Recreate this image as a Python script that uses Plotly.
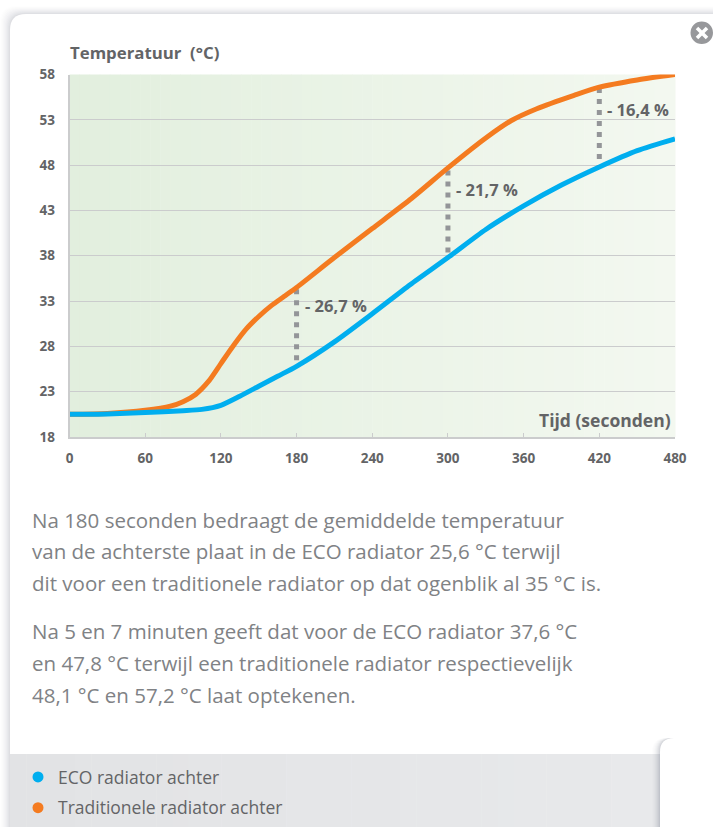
import plotly.graph_objects as go

W, H = 713, 827
# ---------- data ----------
eco_t = [0, 30, 60, 90, 105, 120, 135, 150, 165, 180, 210, 240, 270, 300, 330, 360, 390, 420, 450, 480]
eco_v = [20.5, 20.55, 20.7, 20.9, 21.05, 21.5, 22.5, 23.6, 24.7, 25.8, 28.5, 31.6, 34.8, 37.8, 40.9, 43.5, 45.8, 47.8, 49.6, 50.9]
trad_t = [0, 30, 60, 80, 90, 100, 110, 120, 130, 140, 150, 160, 170, 180, 210, 240, 270, 300, 330, 350, 370, 400, 420, 450, 480]
trad_v = [20.5, 20.6, 20.95, 21.4, 21.9, 22.7, 24.1, 26.1, 28.1, 29.9, 31.3, 32.5, 33.5, 34.5, 37.8, 41.0, 44.2, 47.7, 51.0, 52.9, 54.2, 55.7, 56.6, 57.4, 58.0]
gap_t = [180, 300, 420]
gap_low = [25.7, 37.8, 47.8]
gap_high = [34.3, 47.4, 56.5]
gap_labels = ["- 26,7 %", "- 21,7 %", "- 16,4 %"]
gap_label_y = [32.5, 45.3, 54.1]
x_ticks = [0, 60, 120, 180, 240, 300, 360, 420, 480]
y_ticks = [18, 23, 28, 33, 38, 43, 48, 53, 58]
legend_names = ["ECO radiator achter", "Traditionele radiator achter"]
paragraphs = [
    ["Na 180 seconden bedraagt de gemiddelde temperatuur",
     "van de achterste plaat in de ECO radiator 25,6 °C terwijl",
     "dit voor een traditionele radiator op dat ogenblik al 35 °C is."],
    ["Na 5 en 7 minuten geeft dat voor de ECO radiator 37,6 °C",
     "en 47,8 °C terwijl een traditionele radiator respectievelijk",
     "48,1 °C en 57,2 °C laat optekenen."],
]
para_y = [[520, 551, 583], [631, 663, 695]]

# ---------- styles ----------
BLUE, ORANGE = "#00aeef", "#f47b20"
TXT, GRID, DOT = "#636466", "#cbcccd", "#939598"
FONT = "Open Sans"
L, R, T, B = 69.5, 675.0, 74.5, 437.0

def px(x): return x / W
def py(y): return 1 - y / H
def mix(a, b, f):
    return "rgb(%d,%d,%d)" % tuple(round(a[i] + (b[i] - a[i]) * f) for i in range(3))

def rrect(x0, y0, x1, y1, r, **kw):
    p = (f"M{px(x0)},{py(y0 + r)} Q{px(x0)},{py(y0)} {px(x0 + r)},{py(y0)} "
         f"L{px(x1)},{py(y0)} L{px(x1)},{py(y1)} L{px(x0)},{py(y1)} Z")
    return dict(type="path", path=p, xref="paper", yref="paper", layer="below", **kw)

shapes = []
for i, a in zip(range(10, 0, -1), [.008, .01, .012, .014, .016, .02, .024, .028, .032, .036]):
    shapes.append(rrect(10 - i, 14 - i * .8, W, H, 16, fillcolor=f"rgba(90,95,110,{a})", line_width=0))
shapes.append(rrect(10, 14, W, H, 16, fillcolor="white", line_width=0))
n = 40
for i in range(n):
    x0 = 10 + (660 - 10) * i / n
    x1 = 10 + (660 - 10) * (i + 1) / n + .5
    shapes.append(dict(type="rect", xref="paper", yref="paper", layer="below", x0=px(x0), x1=px(x1),
                       y0=py(754), y1=py(H), line_width=0,
                       fillcolor=mix((226, 227, 229), (232, 233, 235), i / n)))
for i, a in zip(range(8, 0, -1), [.012, .016, .02, .026, .034, .044, .056, .07]):
    shapes.append(rrect(660 - i, 738, W, H, 14, fillcolor=f"rgba(90,95,110,{a})", line_width=0))
shapes.append(rrect(660, 738, W, H, 14, fillcolor="white", line_width=0))
m = 60
for i in range(m):
    shapes.append(dict(type="rect", xref="paper", yref="paper", layer="below",
                       x0=px(L + (R - L) * i / m), x1=px(L + (R - L) * (i + 1) / m + .5),
                       y0=py(T), y1=py(B), line_width=0,
                       fillcolor=mix((226, 239, 222), (243, 248, 240), i / (m - 1))))
shapes.append(dict(type="circle", xref="paper", yref="paper", x0=px(690.5), x1=px(713), y0=py(44), y1=py(21.5),
                   fillcolor="#97989b", line_width=0))
shapes.append(dict(type="line", xref="paper", yref="paper", x0=px(697), x1=px(707), y0=py(28), y1=py(38),
                   line=dict(color="white", width=3.5)))
shapes.append(dict(type="line", xref="paper", yref="paper", x0=px(697), x1=px(707), y0=py(38), y1=py(28),
                   line=dict(color="white", width=3.5)))

fig = go.Figure()
for t, lo, hi in zip(gap_t, gap_low, gap_high):
    fig.add_trace(go.Scatter(x=[t, t], y=[hi, lo], mode="lines", showlegend=False, hoverinfo="skip",
                             line=dict(color=DOT, width=5, dash="5px,6px")))
fig.add_trace(go.Scatter(x=trad_t, y=trad_v, mode="lines", showlegend=False,
                         line=dict(color=ORANGE, width=5, shape="spline", smoothing=.7)))
fig.add_trace(go.Scatter(x=eco_t, y=eco_v, mode="lines", showlegend=False,
                         line=dict(color=BLUE, width=5, shape="spline", smoothing=.7)))
for name, c in zip(legend_names, [BLUE, ORANGE]):
    fig.add_trace(go.Scatter(x=[None], y=[None], mode="markers", name=name, legendgroup=name,
                             marker=dict(color=c, size=11)))

ann = []
for t, y, s in zip(gap_t, gap_label_y, gap_labels):
    ann.append(dict(x=t, y=y, text=f"<b>{s}</b>", xref="x", yref="y", xanchor="left", yanchor="middle",
                    xshift=6, showarrow=False, font=dict(size=16.5, color=TXT, family=FONT)))
ann.append(dict(x=px(68), y=py(53), xref="paper", yref="paper", text="<b>Temperatuur  (°C)</b>", showarrow=False,
                xanchor="left", yanchor="middle", font=dict(size=16.8, color=TXT, family=FONT)))
ann.append(dict(x=px(673), y=py(420), xref="paper", yref="paper", text="<b>Tijd (seconden)</b>", showarrow=False,
                xanchor="right", yanchor="middle", font=dict(size=17.5, color=TXT, family=FONT)))
for lines, ys in zip(paragraphs, para_y):
    for s, y in zip(lines, ys):
        ann.append(dict(x=px(30), y=py(y), xref="paper", yref="paper", text=s, showarrow=False,
                        xanchor="left", yanchor="middle", font=dict(size=20.5, color="#808285", family=FONT)))

fig.update_layout(
    width=W, height=H, margin=dict(l=0, r=0, t=0, b=0, pad=0, autoexpand=False), autosize=False,
    paper_bgcolor="white", plot_bgcolor="rgba(0,0,0,0)", shapes=shapes, annotations=ann,
    font=dict(family=FONT, color=TXT),
    xaxis=dict(domain=[px(L), px(R)], range=[0, 480], tickvals=x_ticks, ticktext=[f"<b>{v}</b>" for v in x_ticks],
               ticks="inside", ticklen=4, tickcolor=GRID, tickwidth=1, showgrid=False, zeroline=False,
               showline=True, linecolor=GRID, linewidth=1.5, tickfont=dict(size=13.5, color=TXT, family=FONT),
               ticklabelstandoff=8),
    yaxis=dict(domain=[py(B), py(T)], range=[18, 58], tickvals=y_ticks, ticktext=[f"<b>{v}</b>" for v in y_ticks],
               ticks="", showgrid=True, gridcolor=GRID, gridwidth=1.3, zeroline=False,
               showline=True, linecolor=GRID, linewidth=1.5, tickfont=dict(size=13.5, color=TXT, family=FONT),
               ticklabelstandoff=10),
    legend=dict(x=px(18), y=py(759), xanchor="left", yanchor="top", bgcolor="rgba(0,0,0,0)",
                font=dict(size=17.5, color=TXT, family=FONT), tracegroupgap=5, itemclick=False,
                itemdoubleclick=False),
    showlegend=True,
)
fig.write_html("out.html", config=dict(displayModeBar=False),
               post_script="document.body.style.margin='0';document.documentElement.style.overflow='hidden';")
